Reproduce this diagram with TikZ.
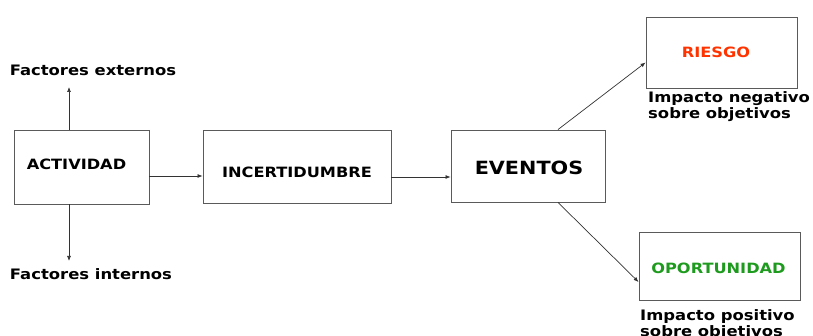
\documentclass[tikz,border=0pt]{standalone}
\usepackage{fontspec}
\setmainfont{DejaVu Sans}[FakeStretch=1.14]
\usetikzlibrary{arrows.meta}
\definecolor{riskred}{HTML}{FF3300}
\definecolor{oppgreen}{HTML}{1E9A1E}
\definecolor{boxline}{HTML}{5A5A5A}
\definecolor{arrowline}{HTML}{333333}
\begin{document}
\begin{tikzpicture}[x=1pt,y=-1pt,
  box/.style={draw=boxline,line width=0.9pt,inner sep=0pt},
  boxtext/.style={font=\bfseries\fontsize{14.2}{16}\selectfont,inner sep=0pt},
  arr/.style={draw=arrowline,line width=0.7pt,-{Latex[length=5pt,width=4pt]}},
  note/.style={font=\bfseries\fontsize{14.4}{16}\selectfont,inner sep=0pt,align=left}]
\useasboundingbox (0,0) rectangle (813,336);

% main chain of boxes
\node[box,minimum width=135pt,minimum height=74pt] (act) at (81.5,167) {};
\node[boxtext] (actT) at (76.5,164) {ACTIVIDAD};
\node[box,minimum width=188pt,minimum height=73pt] (inc) at (297,166.5) {};
\node[boxtext] (incT) at (297,172) {INCERTIDUMBRE};
\node[box,minimum width=154pt,minimum height=72pt] (ev) at (528,166) {};
\node[boxtext,font=\bfseries\fontsize{18.2}{20}\selectfont] (evT) at (529,168) {EVENTOS};

% outcome boxes
\node[box,minimum width=151pt,minimum height=71pt] (rie) at (721.5,52.5) {};
\node[boxtext,text=riskred] (rieT) at (716,52) {RIESGO};
\node[box,minimum width=161pt,minimum height=68pt] (op) at (719.5,266) {};
\node[boxtext,text=oppgreen] (opT) at (718.5,268) {OPORTUNIDAD};

% captions
\node[note,anchor=north west] (neg) at (648,91) {Impacto negativo\\sobre objetivos};
\node[note,anchor=north west] (pos) at (640,309.5) {Impacto positivo\\sobre objetivos};
\node[note] (ext) at (93,70) {Factores externos};
\node[note] (int) at (91,274) {Factores internos};

% connectors
\draw[arr] ([xshift=-12.5pt]act.north) -- ([xshift=-12.5pt]act.north |- 0,87);
\draw[arr] ([xshift=-12.5pt]act.south) -- ([xshift=-12.5pt]act.south |- 0,261);
\draw[arr] ([yshift=-9pt]act.east) -- ([yshift=-9.5pt]inc.west);
\draw[arr] ([yshift=-10.5pt]inc.east) -- ([yshift=-11pt]ev.west);
\draw[arr] ([xshift=30pt]ev.north) -- ([yshift=-10pt]rie.west);
\draw[arr] ([xshift=30pt]ev.south) -- ([yshift=-16pt]op.west);
\end{tikzpicture}
\end{document}
